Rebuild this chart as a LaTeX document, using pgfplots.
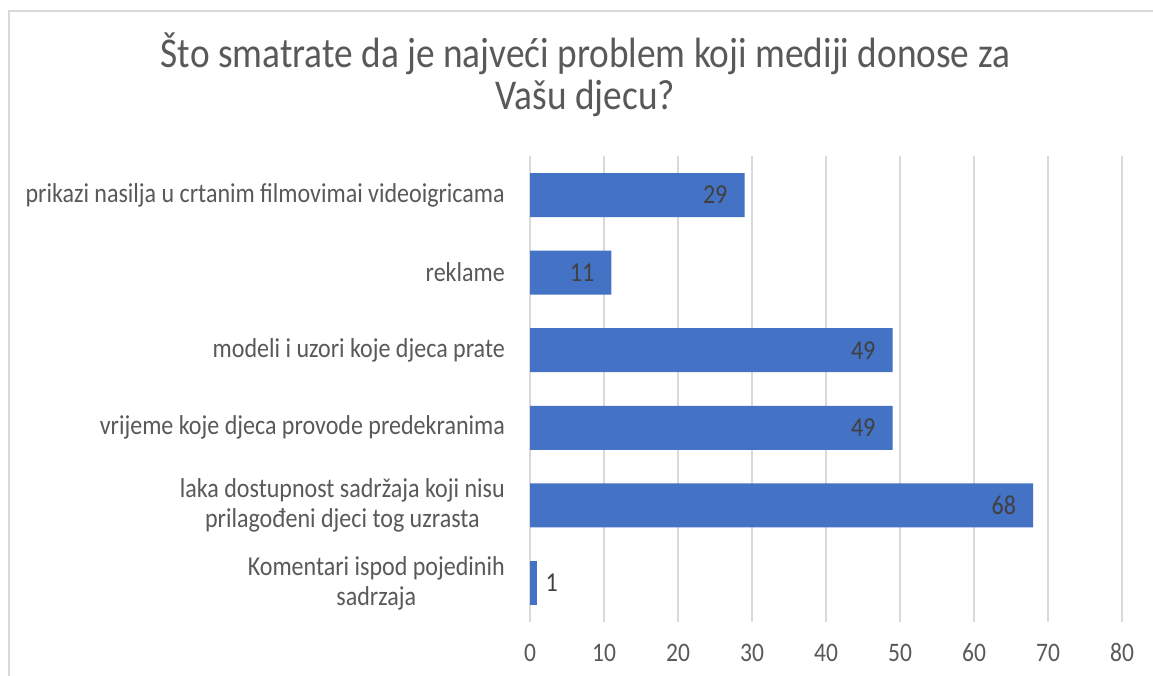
\documentclass[border=0pt]{standalone}
\usepackage{fontspec}
\setmainfont{Carlito}[FakeStretch=0.88]
\usepackage{pgfplots}
\pgfplotsset{compat=1.18}
\pgfplotsset{/pgf/number format/assume math mode=true}
\definecolor{barblue}{HTML}{4472C4}
\definecolor{txtgray}{HTML}{595959}
\definecolor{valgray}{HTML}{404040}
\definecolor{gridgray}{HTML}{D9D9D9}

\begin{document}
\begin{tikzpicture}
\useasboundingbox (0pt,0pt) rectangle (1153pt,675pt);
\fill[white] (0pt,0pt) rectangle (1153pt,675pt);
% chart border (only left and top edges are in view)
\draw[gridgray, line width=1.3pt] (9pt,-10pt) -- (9pt,664pt) -- (1170pt,664pt);
% title
\node[anchor=base, inner sep=0pt, text=txtgray, font=\fontsize{42.4}{48}\selectfont]
  at (585.5pt,607pt) {Što smatrate da je najveći problem koji mediji donose za};
\node[anchor=base, inner sep=0pt, text=txtgray, font=\fontsize{42.4}{48}\selectfont]
  at (585.5pt,565pt) {Vašu djecu?};

\begin{axis}[
  at={(530pt,53.2pt)}, anchor=south west,
  scale only axis, width=592pt, height=465.6pt,
  xbar, bar width=44pt,
  xmin=0, xmax=80, ymin=-0.5, ymax=5.5, enlargelimits=false,
  xtick={0,10,...,80}, ytick={0,1,2,3,4,5},
  yticklabels={
    {Komentari ispod pojedinih\\sadrzaja},
    {laka dostupnost sadržaja koji nisu\\prilagođeni djeci tog uzrasta},
    {vrijeme koje djeca provode predekranima},
    {modeli i uzori koje djeca prate},
    {reklame},
    {prikazi nasilja u crtanim filmovimai videoigricama}},
  axis line style={draw=none}, major tick length=0pt,
  xmajorgrids, grid style={gridgray, line width=1.5pt},
  xticklabel style={anchor=base, yshift=-40pt, inner sep=0pt, text=txtgray,
    font=\fontsize{26.7}{30}\selectfont},
  yticklabel style={anchor=east, align=center, xshift=-25pt, inner sep=0pt, text=txtgray,
    font=\fontsize{27.3}{30}\selectfont},
  point meta=x,
  every node near coord/.append style={text=valgray, font=\fontsize{27.3}{30}\selectfont, inner sep=0pt},
]
\addplot[fill=barblue, draw=none, bar shift=0pt, nodes near coords,
  nodes near coords style={anchor=east, xshift=-17pt}]
  coordinates {(29,5) (11,4) (49,3) (49,2) (68,1)};
\addplot[fill=barblue, draw=none, bar shift=0pt, nodes near coords,
  nodes near coords style={anchor=west, xshift=8pt}]
  coordinates {(1,0)};
\end{axis}
\end{tikzpicture}
\end{document}
